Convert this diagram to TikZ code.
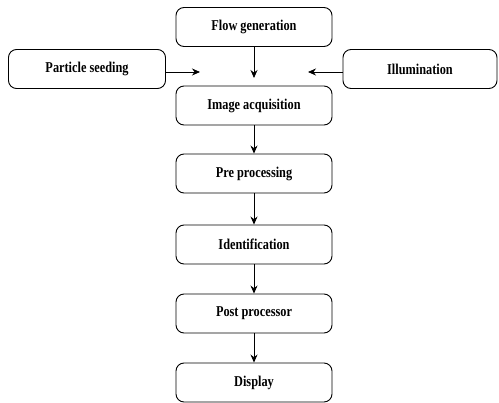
\documentclass[tikz,border=0pt]{standalone}
\usepackage{fontspec}
\setmainfont{Liberation Serif}[FakeStretch=0.82]
\usetikzlibrary{arrows.meta}
\begin{document}
\begin{tikzpicture}[x=1pt,y=-1pt,
  box/.style={draw, line width=0.9pt, rounded corners=8pt, minimum width=156pt, minimum height=39pt, font=\fontsize{15}{17}\selectfont\bfseries, inner sep=0pt},
  arr/.style={-{Stealth[length=8pt,width=7pt]}, line width=0.8pt}]
\useasboundingbox (0,0) rectangle (499,403);
\node[box] (flow) at (254,27) {Flow generation};
\node[box, minimum width=157pt] (seed) at (87,69) {Particle seeding};
\node[box, minimum width=154pt] (ill) at (420,69) {Illumination};
\node[box] (img) at (254,105.5) {Image acquisition};
\node[box] (pre) at (254,173.5) {Pre processing};
\node[box] (ident) at (254,244.5) {Identification};
\node[box] (post) at (254,313.5) {Post processor};
\node[box] (disp) at (254,382.5) {Display};
\coordinate (c1) at (254,78);
\coordinate (c2) at (200,72);
\coordinate (c3) at (308,72);
\draw[arr] (flow.south) -- (c1);
\draw[arr] (seed.east |- c2) -- (c2);
\draw[arr] (ill.west |- c3) -- (c3);
\draw[arr] (img) -- (pre);
\draw[arr] (pre) -- (ident);
\draw[arr] (ident) -- (post);
\draw[arr] (post) -- (disp);
\end{tikzpicture}
\end{document}
